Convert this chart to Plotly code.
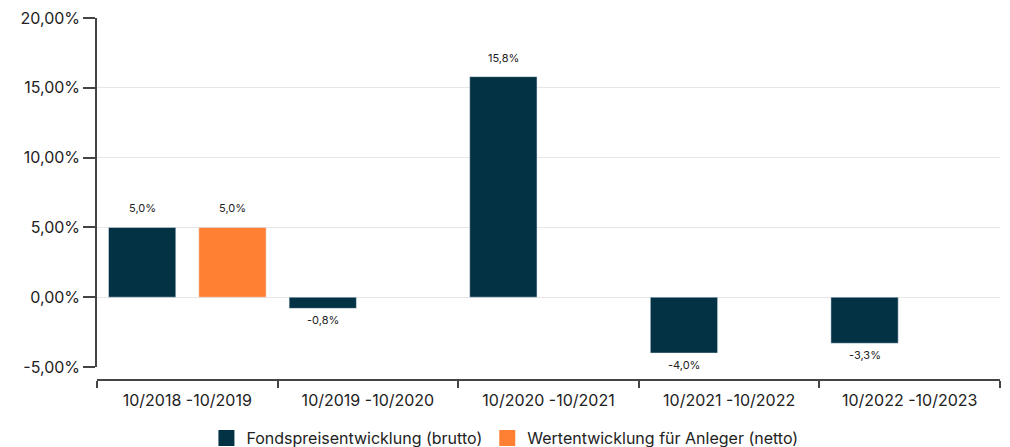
import plotly.graph_objects as go

# Wertentwicklung je Zeitraum in %
periods = ["10/2018 -10/2019", "10/2019 -10/2020", "10/2020 -10/2021",
           "10/2021 -10/2022", "10/2022 -10/2023"]
brutto = [5.0, -0.8, 15.8, -4.0, -3.3]
netto = [5.0, None, None, None, None]

y_ticks = [-5, 0, 5, 10, 15, 20]
y_ticktext = ["-5,00%", "0,00%", "5,00%", "10,00%", "15,00%", "20,00%"]

series = [
    ("Fondspreisentwicklung (brutto)", brutto, "#033244"),
    ("Wertentwicklung für Anleger (netto)", netto, "#FF8033"),
]

FONT = "Inter, 'Noto Sans', sans-serif"
TEXT_COL = "#222222"
AXIS_COL = "#444444"


def fmt_pct(v):
    return f"{v:.1f}%".replace(".", ",")


fig = go.Figure()

for name, vals, color in series:
    fig.add_trace(go.Bar(
        x=periods, y=vals, name=name, marker_color=color,
        showlegend=False, hoverinfo="skip",
    ))
    # dummy trace for larger legend squares
    fig.add_trace(go.Scatter(
        x=[None], y=[None], mode="markers", name=name,
        marker=dict(symbol="square", size=20, color=color),
    ))

# value labels above / below the bars
annotations = []
slot_px = 903 / len(periods) / 4
for idx, (name, vals, color) in enumerate(series):
    for cat, v in zip(periods, vals):
        if v is None:
            continue
        annotations.append(dict(
            x=cat, y=v, xref="x", yref="y", text=fmt_pct(v), showarrow=False,
            xshift=(-slot_px if idx == 0 else slot_px),
            yshift=(19 if v >= 0 else -12),
            font=dict(size=11, color=TEXT_COL, family=FONT),
        ))

fig.update_layout(
    width=1010, height=447,
    margin=dict(l=89, r=18, t=10, b=75),
    paper_bgcolor="white", plot_bgcolor="white",
    font=dict(family=FONT, size=16, color=TEXT_COL),
    barmode="group", bargap=0.0, bargroupgap=0.255,
    annotations=annotations,
    legend=dict(
        orientation="h", xref="container", yref="container",
        x=0.492, xanchor="center", y=-0.02, yanchor="bottom",
        font=dict(size=16, color=TEXT_COL), itemsizing="trace",
    ),
    xaxis=dict(
        anchor="free", position=0, automargin=False,
        showline=True, linecolor=AXIS_COL, linewidth=1.5,
        ticks="outside", tickson="boundaries", ticklen=7,
        tickcolor=AXIS_COL, tickwidth=1.5, ticklabelstandoff=6,
        showgrid=False, tickfont=dict(size=16, color=TEXT_COL),
    ),
    yaxis=dict(
        domain=[13 / 362, 1], range=[-5, 20], automargin=False,
        tickvals=y_ticks, ticktext=y_ticktext, ticklabeloverflow="allow",
        showline=True, linecolor=AXIS_COL, linewidth=1.5,
        ticks="outside", ticklen=12, tickcolor=AXIS_COL, tickwidth=1.5,
        showgrid=True, gridcolor="#e6e6e6", gridwidth=1,
        zeroline=False, tickfont=dict(size=16, color=TEXT_COL),
    ),
)

fig.write_html("out.html")
